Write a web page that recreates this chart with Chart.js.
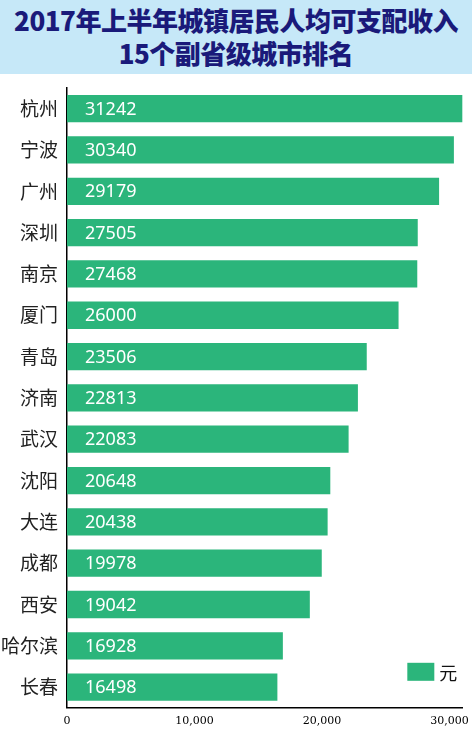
<!DOCTYPE html>
<html>
<head>
<meta charset="utf-8">
<script src="https://cdn.jsdelivr.net/npm/chart.js@4"></script>
<style>
body { margin: 0; background: #fff; width: 472px; height: 731px; overflow: hidden; }
#title { height: 74px; background: #c6e8f8; color: #1a1a7a; font-family: "Noto Sans CJK SC"; font-weight: 900;
  font-size: 26px; line-height: 33px; text-align: center; padding-top: 3px; box-sizing: border-box; letter-spacing: -0.5px; }
#wrap { position: relative; width: 472px; height: 657px; }
</style>
</head>
<body>
<div id="title">2017年上半年城镇居民人均可支配收入<br>15个副省级城市排名</div>
<div id="wrap"><canvas id="chart"></canvas></div>
<script>
const cities = ['杭州', '宁波', '广州', '深圳', '南京', '厦门', '青岛', '济南', '武汉', '沈阳', '大连', '成都', '西安', '哈尔滨', '长春'];
const incomes = [31242, 30340, 29179, 27505, 27468, 26000, 23506, 22813, 22083, 20648, 20438, 19978, 19042, 16928, 16498];
const xTicks = [0, 10000, 20000, 30000];
const unitLabel = '元';
const barColor = '#2bb57b';

// 柱内的白色数值 + 右下角图例
const valuePlugin = {
    id: 'values',
    afterDatasetsDraw(chart) {
        const ctx = chart.ctx;
        const meta = chart.getDatasetMeta(0);
        ctx.save();
        ctx.fillStyle = '#fff';
        ctx.font = '18px "Noto Sans", sans-serif';
        ctx.textBaseline = 'middle';
        meta.data.forEach((bar, i) => {
            ctx.fillText(String(incomes[i]), chart.scales.x.left + 18, bar.y + 1);
        });
        const a = chart.chartArea;
        ctx.fillStyle = barColor;
        ctx.fillRect(a.right - 55, a.bottom - 45, 27, 18);
        ctx.fillStyle = '#111';
        ctx.font = '18px "Noto Sans CJK SC"';
        ctx.fillText(unitLabel, a.right - 23, a.bottom - 35);
        ctx.restore();
    }
};

const ctx = document.getElementById('chart').getContext('2d');
new Chart(ctx, {
    type: 'bar',
    data: {
        labels: cities,
        datasets: [{ label: unitLabel, data: incomes, backgroundColor: barColor, barPercentage: 0.66, categoryPercentage: 1 }]
    },
    options: {
        indexAxis: 'y',
        responsive: true,
        maintainAspectRatio: false,
        animation: false,
        layout: { padding: { left: 0, right: 6, top: 14, bottom: 0 } },
        plugins: { legend: { display: false }, tooltip: { enabled: false } },
        scales: {
            x: {
                min: 0, max: 31000,
                afterBuildTicks: axis => { axis.ticks = xTicks.map(v => ({ value: v })); },
                grid: { display: false, drawTicks: true, tickLength: 4 },
                border: { color: '#000', width: 1.5 },
                ticks: { autoSkip: false, maxRotation: 0, color: '#000', font: { family: 'DejaVu Serif', size: 11 } }
            },
            y: {
                grid: { display: false },
                border: { color: '#000', width: 1.5 },
                ticks: { color: '#222', font: { family: 'Noto Sans CJK SC', size: 19 }, padding: 1 }
            }
        }
    },
    plugins: [valuePlugin]
});
</script>
</body>
</html>
